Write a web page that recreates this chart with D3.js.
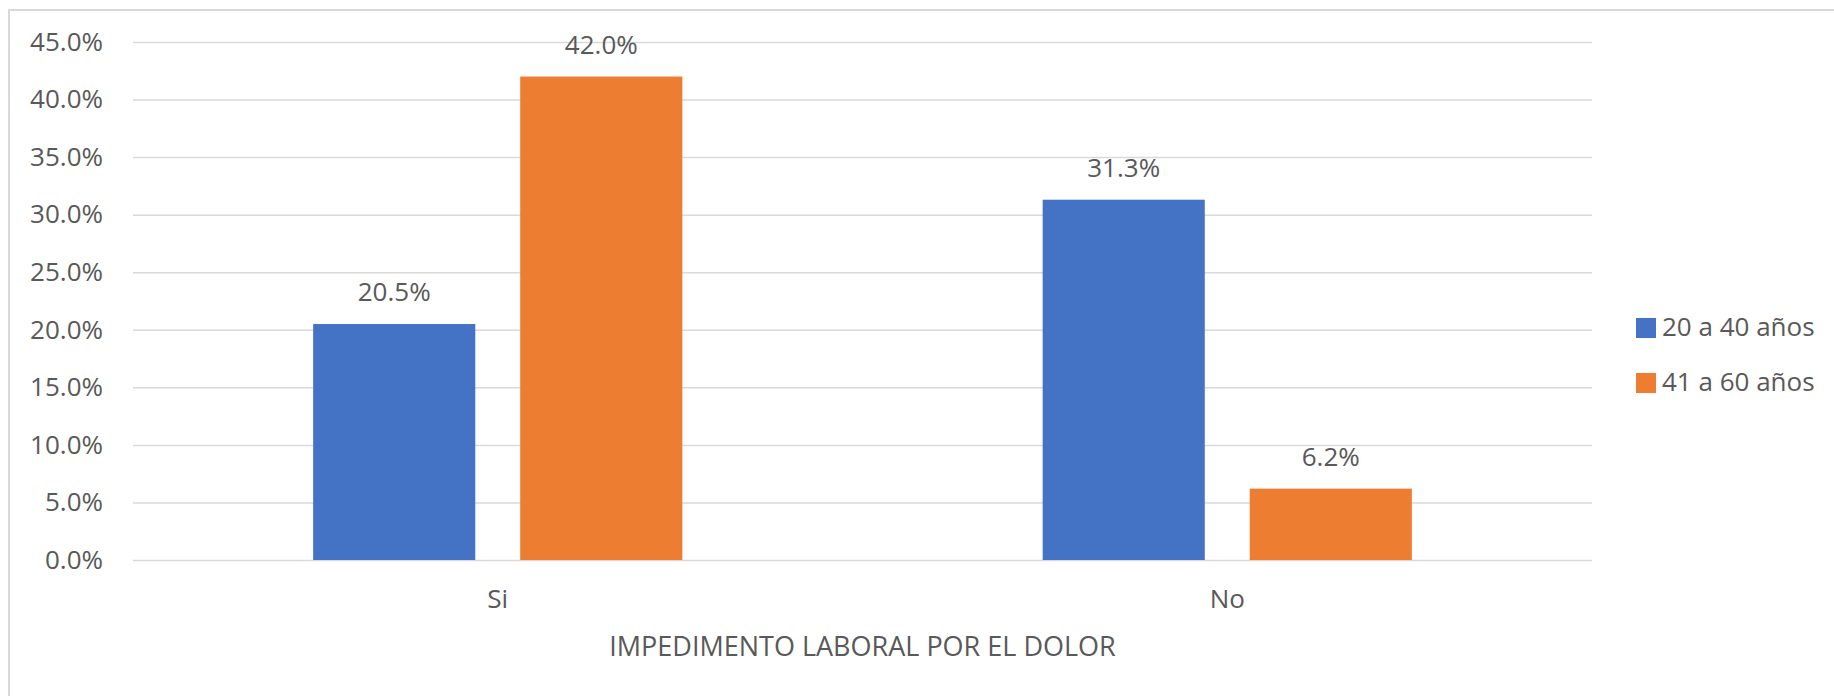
<!DOCTYPE html>
<html>
<head>
<meta charset="utf-8">
<script src="https://cdn.jsdelivr.net/npm/d3@7"></script>
<style>
  body { margin: 0; background: #fff; }
  text { font-family: "Open Sans", sans-serif; fill: #595959; }
</style>
</head>
<body>
<svg id="chart"></svg>
<script>
// Chart data
const categories = ["Si", "No"];
const seriesNames = ["20 a 40 años", "41 a 60 años"];
const values2040 = [0.205, 0.313];
const values4160 = [0.420, 0.062];
const yTicks = [0, 0.05, 0.10, 0.15, 0.20, 0.25, 0.30, 0.35, 0.40, 0.45];
const axisTitle = "IMPEDIMENTO LABORAL POR EL DOLOR";

const width = 1834, height = 696;
const colors = ["#4472C4", "#ED7D31"];
const plot = { left: 133, right: 1592, top: 42, bottom: 560 };

const svg = d3.select("#chart")
  .attr("width", width)
  .attr("height", height);

// outer chart border (only top and left visible in the picture)
svg.append("rect")
  .attr("x", 9).attr("y", 10)
  .attr("width", 2000).attr("height", 1000)
  .attr("fill", "none")
  .attr("stroke", "#d9d9d9")
  .attr("stroke-width", 2);

const y = d3.scaleLinear()
  .domain([0, 0.45])
  .range([plot.bottom, plot.top]);

const x0 = d3.scaleBand()
  .domain(categories)
  .range([plot.left, plot.right]);

const x1 = d3.scaleBand()
  .domain(seriesNames)
  .range([0, x0.bandwidth()])
  .paddingInner(0.217)
  .paddingOuter(0.87);

// y axis with gridlines
const yAxis = svg.append("g")
  .attr("transform", `translate(${plot.left},0)`)
  .call(d3.axisLeft(y)
    .tickValues(yTicks)
    .tickFormat(d3.format(".1%"))
    .tickSizeInner(-(plot.right - plot.left))
    .tickSizeOuter(0)
    .tickPadding(30));
yAxis.select(".domain").remove();
yAxis.selectAll("line").attr("stroke", "#d9d9d9").attr("stroke-width", 1.5);
yAxis.selectAll("text")
  .style("font-family", "'Open Sans', sans-serif")
  .style("font-size", "26px")
  .attr("fill", "#595959");

// bars
const rows = categories.map((c, i) => ({ cat: c, vals: [values2040[i], values4160[i]] }));

const groups = svg.append("g").selectAll("g")
  .data(rows)
  .join("g")
  .attr("transform", d => `translate(${x0(d.cat)},0)`);

groups.selectAll("rect")
  .data(d => d.vals.map((v, j) => ({ name: seriesNames[j], v, j })))
  .join("rect")
  .attr("x", d => x1(d.name))
  .attr("y", d => y(d.v))
  .attr("width", x1.bandwidth())
  .attr("height", d => y(0) - y(d.v))
  .attr("fill", d => colors[d.j]);

groups.selectAll("text.lbl")
  .data(d => d.vals.map((v, j) => ({ name: seriesNames[j], v, j })))
  .join("text")
  .attr("class", "lbl")
  .attr("x", d => x1(d.name) + x1.bandwidth() / 2)
  .attr("y", d => y(d.v) - 23)
  .attr("text-anchor", "middle")
  .style("font-size", "26px")
  .text(d => d3.format(".1%")(d.v));

// category labels
svg.append("g").selectAll("text")
  .data(categories)
  .join("text")
  .attr("x", d => x0(d) + x0.bandwidth() / 2)
  .attr("y", 608)
  .attr("text-anchor", "middle")
  .style("font-size", "26px")
  .text(d => d);

// axis title
svg.append("text")
  .attr("x", (plot.left + plot.right) / 2)
  .attr("y", 656)
  .attr("text-anchor", "middle")
  .style("font-size", "27px")
  .text(axisTitle);

// legend
const legend = svg.append("g")
  .attr("transform", "translate(1636,318)");

const items = legend.selectAll("g")
  .data(seriesNames)
  .join("g")
  .attr("transform", (d, i) => `translate(0,${i * 55})`);

items.append("rect")
  .attr("width", 20)
  .attr("height", 20)
  .attr("fill", (d, i) => colors[i]);

items.append("text")
  .attr("x", 26)
  .attr("y", 18)
  .style("font-size", "26px")
  .text(d => d);
</script>
</body>
</html>
